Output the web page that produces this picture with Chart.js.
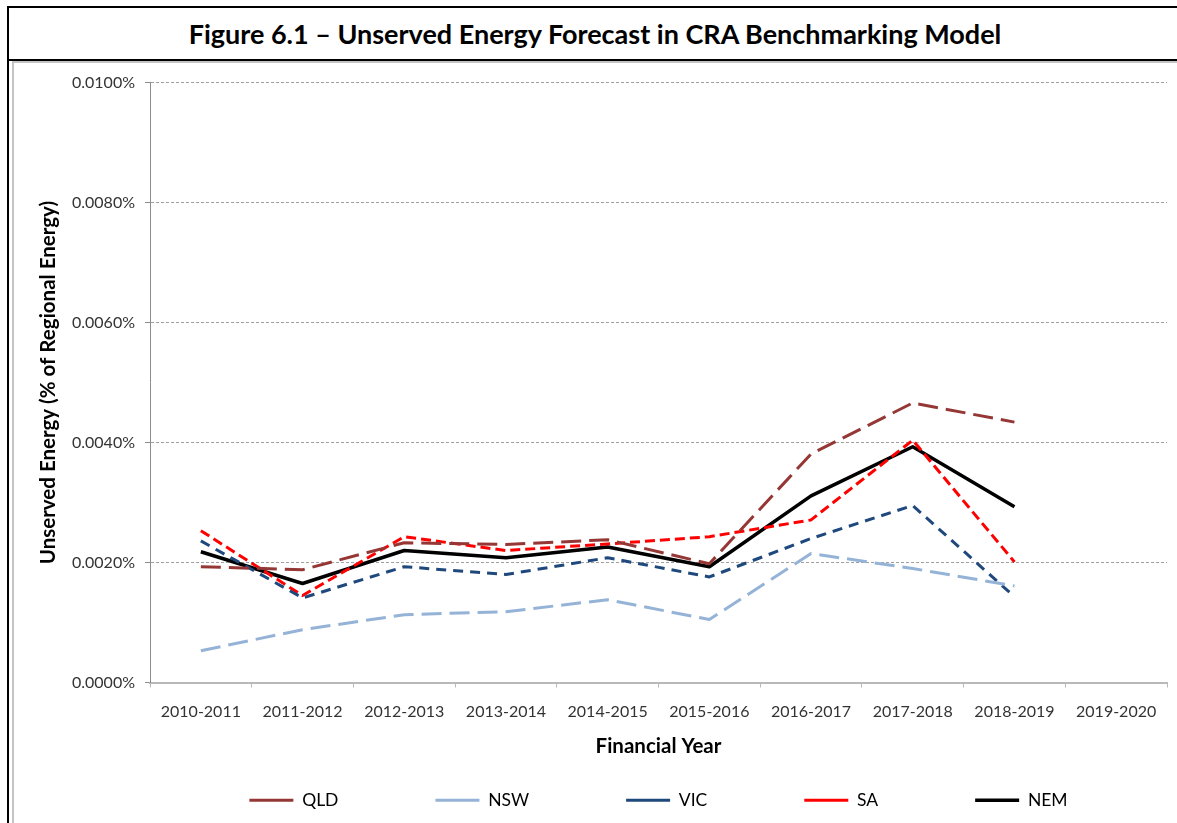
<!DOCTYPE html>
<html>
<head>
<meta charset="utf-8">
<script src="https://cdn.jsdelivr.net/npm/chart.js@4.4.0/dist/chart.umd.min.js"></script>
<style>
  html, body { margin: 0; padding: 0; background: #fff; overflow: hidden; width: 1177px; height: 823px; }
  .abs { position: absolute; }
  #title {
    position: absolute; left: 9px; top: 8px; width: 1172px; height: 51px;
    display: flex; align-items: center; justify-content: center;
    font-family: Lato, 'Liberation Sans', sans-serif; font-weight: bold; font-size: 27px; color: #000;
  }
</style>
</head>
<body>
<div class="abs" style="left:7px;top:6px;width:2px;height:830px;background:#000"></div>
<div class="abs" style="left:7px;top:6px;width:1200px;height:2px;background:#000"></div>
<div id="title">Figure 6.1 – Unserved Energy Forecast in CRA Benchmarking Model</div>
<div class="abs" style="left:7px;top:59px;width:1200px;height:2px;background:#000"></div>
<div class="abs" style="left:12px;top:61px;width:2px;height:800px;background:#c4c4c4"></div>
<div class="abs" style="left:12px;top:61px;width:1200px;height:2px;background:#c4c4c4"></div>
<canvas id="c" width="1162" height="824" style="position:absolute;left:15px;top:63px"></canvas>
<script>
const categories = ['2010-2011', '2011-2012', '2012-2013', '2013-2014', '2014-2015',
                    '2015-2016', '2016-2017', '2017-2018', '2018-2019', '2019-2020'];
// values in % of regional energy
const qld = [0.00193, 0.00188, 0.00233, 0.00230, 0.00238, 0.00198, 0.00381, 0.00466, 0.00434, null];
const nsw = [0.00053, 0.00088, 0.00113, 0.00118, 0.00138, 0.00105, 0.00215, 0.00190, 0.00161, null];
const vic = [0.00236, 0.00141, 0.00193, 0.00180, 0.00208, 0.00176, 0.00240, 0.00295, 0.00143, null];
const sa  = [0.00253, 0.00145, 0.00243, 0.00220, 0.00231, 0.00243, 0.00271, 0.00404, 0.00201, null];
const nem = [0.00218, 0.00165, 0.00220, 0.00208, 0.00226, 0.00193, 0.00311, 0.00393, 0.00293, null];
const seriesNames = ['QLD', 'NSW', 'VIC', 'SA', 'NEM'];
const yMin = 0, yMax = 0.01, yStep = 0.002;
const xTitle = 'Financial Year';
const yTitle = 'Unserved Energy (% of Regional Energy)';

const FONT = "Lato, 'Liberation Sans', sans-serif";
Chart.defaults.font.family = FONT;

function ds(label, data, color, dash, width) {
  return {
    label, data,
    borderColor: color, backgroundColor: color,
    borderWidth: width, borderDash: dash,
    borderCapStyle: 'butt', borderJoinStyle: 'round',
    pointRadius: 0, pointHoverRadius: 0, tension: 0, spanGaps: false,
    pointStyle: 'line'
  };
}

const P = 97;    // legend spacing between items
const HX = 80;   // x-scale box height
const LEGEND_GAP = 29; // space between x-scale box and legend items

// moves the legend up so its wide item spacing does not eat the plot height
const legendShift = {
  id: 'legendShift',
  afterLayout(chart) {
    const lg = chart.legend;
    const dy = P - LEGEND_GAP;
    lg.top -= dy;
    lg.bottom -= dy;
  }
};

new Chart(document.getElementById('c'), {
  type: 'line',
  data: {
    labels: categories,
    datasets: [
      ds(seriesNames[0], qld, '#953735', [20, 8], 3),
      ds(seriesNames[1], nsw, '#95B3D7', [20, 8], 3),
      ds(seriesNames[2], vic, '#1F497D', [10, 7], 3),
      ds(seriesNames[3], sa,  '#FF0000', [10, 5], 3),
      ds(seriesNames[4], nem, '#000000', [], 3.5)
    ]
  },
  plugins: [legendShift],
  options: {
    responsive: false,
    animation: false,
    events: [],
    layout: { padding: { top: 18, right: 10, bottom: 0, left: 0 } },
    plugins: {
      tooltip: { enabled: false },
      legend: {
        position: 'bottom',
        fullSize: false,
        labels: {
          usePointStyle: true,
          pointStyle: 'line',
          pointStyleWidth: 44,
          padding: P,
          color: '#000',
          font: { size: 17.5, family: FONT }
        }
      }
    },
    scales: {
      x: {
        offset: true,
        grid: { offset: true, drawOnChartArea: false, drawTicks: true, tickLength: 5, tickColor: '#b8b8b8', tickWidth: 1 },
        border: { display: true, color: '#b8b8b8', width: 2 },
        ticks: { color: '#333', font: { size: 16, family: FONT }, padding: 15, maxRotation: 0, autoSkip: false },
        title: { display: true, text: xTitle, color: '#000', font: { size: 20.5, weight: 'bold', family: FONT },
                 padding: { top: 0, bottom: 4 } },
        afterFit: (s) => { s.height = HX; }
      },
      y: {
        min: yMin, max: yMax,
        grid: { color: '#a0a0a0', lineWidth: 1, drawTicks: true, tickLength: 5, tickColor: '#8c8c8c' },
        border: { display: true, color: '#8c8c8c', width: 1, dash: [3, 2] },
        ticks: { stepSize: yStep, color: '#333', font: { size: 16, family: FONT }, padding: 10,
                 callback: (v) => Number(v).toFixed(4) + '%' },
        title: { display: true, text: yTitle, color: '#000', font: { size: 20.5, weight: 'bold', family: FONT },
                 padding: { top: 21, bottom: 0 } },
        afterFit: (s) => { s.width = 135; }
      }
    }
  }
});
</script>
</body>
</html>
